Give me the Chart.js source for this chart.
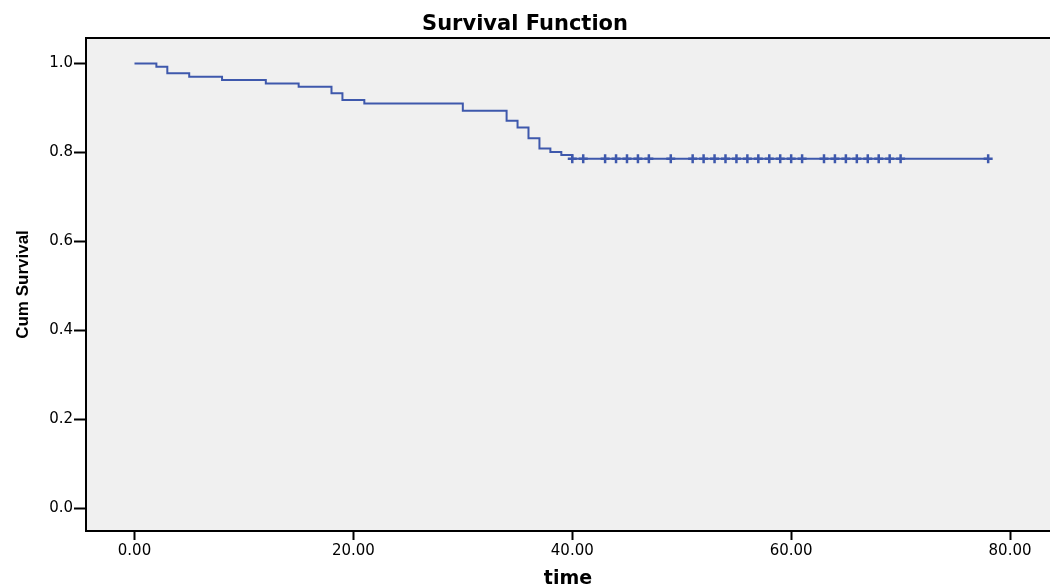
<!DOCTYPE html>
<html>
<head>
<meta charset="utf-8">
<title>Survival Function</title>
<script src="https://cdn.jsdelivr.net/npm/chart.js@4/dist/chart.umd.min.js"></script>
<style>
    html, body { margin: 0; padding: 0; background: #fff; }
    #survival-chart { display: block; }
</style>
</head>
<body>
<canvas id="survival-chart" width="1050" height="585"></canvas>
<script>
'use strict';

// Kaplan-Meier steps: time of each event and cum survival after it
var eventTimes = [0, 2, 3, 5, 8, 12, 15, 18, 19, 21, 30, 34, 35, 36, 37, 38, 39, 40];
var survival = [1.0, 0.993, 0.978, 0.970, 0.963, 0.955, 0.948, 0.933, 0.918, 0.910,
                0.894, 0.871, 0.856, 0.832, 0.809, 0.801, 0.794, 0.786];

// Censored cases, drawn as + marks
var censorTimes = [40, 41, 43, 44, 45, 46, 47, 49, 51, 52, 53, 54, 55, 56, 57, 58,
                   59, 60, 61, 63, 64, 65, 66, 67, 68, 69, 70, 78];

var xTicks = [0, 20, 40, 60, 80];
var yTicks = [0, 0.2, 0.4, 0.6, 0.8, 1.0];

var LINE_COLOR = '#3e58ac';

/**
 * Survival level at time t (last step at or before t)
 */
function survAt(t) {
    var s = survival[0];
    for (var i = 0; i < eventTimes.length; i++) {
        if (eventTimes[i] <= t) s = survival[i];
    }
    return s;
}

var curve = eventTimes.map(function(t, i) {
    return { x: t, y: survival[i] };
});
var lastTime = censorTimes[censorTimes.length - 1];
curve.push({ x: lastTime, y: survAt(lastTime) });

var censored = censorTimes.map(function(t) {
    return { x: t, y: survAt(t) };
});

/**
 * Grey plot background and the top frame line
 */
var plotFrame = {
    id: 'plotFrame',
    beforeDraw: function(chart) {
        var ctx = chart.ctx;
        var a = chart.chartArea;
        ctx.save();
        ctx.fillStyle = '#f0f0f0';
        ctx.fillRect(a.left, a.top, a.right - a.left, a.bottom - a.top);
        ctx.strokeStyle = '#000';
        ctx.lineWidth = 2;
        ctx.beginPath();
        ctx.moveTo(a.left, a.top);
        ctx.lineTo(a.right, a.top);
        ctx.stroke();
        ctx.restore();
    }
};

Chart.defaults.font.family = "'DejaVu Sans', sans-serif";
Chart.defaults.color = '#000';

new Chart(document.getElementById('survival-chart'), {
    type: 'line',
    data: {
        datasets: [{
            label: 'Survival Function',
            data: curve,
            stepped: true,
            borderColor: LINE_COLOR,
            borderWidth: 2,
            pointRadius: 0,
            fill: false
        }, {
            label: 'Censored',
            data: censored,
            showLine: false,
            pointStyle: 'cross',
            pointRadius: 4.5,
            pointBorderWidth: 2.5,
            pointBorderColor: LINE_COLOR,
            pointBackgroundColor: LINE_COLOR
        }]
    },
    options: {
        responsive: false,
        animation: false,
        devicePixelRatio: 1,
        layout: { padding: 0, autoPadding: false },
        plugins: {
            legend: { display: false },
            tooltip: { enabled: false },
            title: {
                display: true,
                text: 'Survival Function',
                font: { family: "'DejaVu Sans', sans-serif", size: 21, weight: 'bold', lineHeight: 1.2 },
                padding: { top: 12, bottom: 0.8 }
            }
        },
        scales: {
            x: {
                type: 'linear',
                min: -4.43,
                max: 83.65,
                afterBuildTicks: function(axis) {
                    axis.ticks = xTicks.map(function(v) { return { value: v }; });
                },
                afterFit: function(axis) {
                    axis.height = 54;
                    axis.paddingLeft = 0;
                    axis.paddingRight = 0;
                },
                ticks: {
                    font: { size: 15 },
                    padding: 2,
                    maxRotation: 0,
                    callback: function(v) { return v.toFixed(2); }
                },
                grid: {
                    drawOnChartArea: false,
                    drawTicks: true,
                    tickLength: 9,
                    tickColor: '#000',
                    tickWidth: 2
                },
                border: { display: true, color: '#000', width: 2 },
                title: {
                    display: true,
                    text: 'time',
                    font: { size: 19, weight: 'bold', lineHeight: 0.7 },
                    padding: { top: 0, bottom: -1 }
                }
            },
            y: {
                min: -0.0517,
                max: 1.0574,
                afterBuildTicks: function(axis) {
                    axis.ticks = yTicks.map(function(v) { return { value: v }; });
                },
                afterFit: function(axis) {
                    axis.width = 86;
                    axis.paddingTop = 0;
                    axis.paddingBottom = 0;
                },
                ticks: {
                    font: { size: 15 },
                    padding: 1,
                    callback: function(v) { return v.toFixed(1); }
                },
                grid: {
                    drawOnChartArea: false,
                    drawTicks: true,
                    tickLength: 12,
                    tickColor: '#000',
                    tickWidth: 2
                },
                border: { display: true, color: '#000', width: 2 },
                title: {
                    display: true,
                    text: 'Cum Survival',
                    font: {
                        family: "'Liberation Sans', Arial, sans-serif",
                        size: 17,
                        weight: 'bold',
                        lineHeight: 1
                    },
                    padding: { top: 15, bottom: 0 }
                }
            }
        }
    },
    plugins: [plotFrame]
});
</script>
</body>
</html>
